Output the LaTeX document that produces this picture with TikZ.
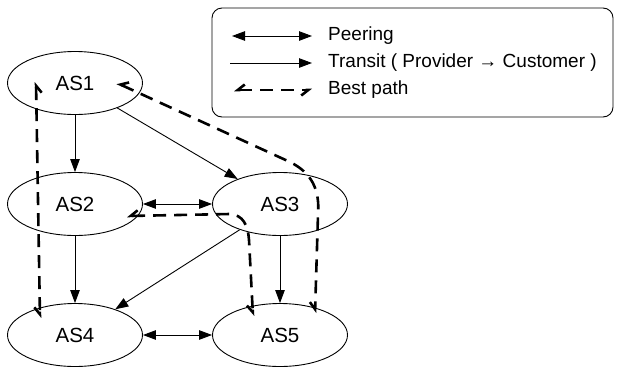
\documentclass[tikz,border=0pt]{standalone}
\usepackage{fontspec}
\setmainfont{Liberation Sans}
\usetikzlibrary{arrows.meta,shapes.geometric}

\tikzset{
  asnode/.style={draw, ellipse, line width=0.9pt, minimum width=135pt, minimum height=63pt,
    inner sep=0pt, font=\fontsize{20.5}{24}\selectfont},
  transit/.style={line width=0.9pt, -{Triangle[length=13pt,width=9.5pt]}},
  peering/.style={line width=0.9pt, {Triangle[length=13pt,width=9.5pt]}-{Triangle[length=13pt,width=9.5pt]}},
  bestpath/.style={line width=2.6pt, dash pattern=on 13pt off 8pt,
    {Straight Barb[harpoon,swap,length=7pt,width=11pt]}-{Straight Barb[harpoon,swap,length=7pt,width=11pt]}},
  legendtext/.style={anchor=west, inner sep=0pt, font=\fontsize{19}{22}\selectfont},
}

\begin{document}
\begin{tikzpicture}[x=1pt,y=-1pt]
  \useasboundingbox (0,0) rectangle (617,370);

  % legend
  \draw[line width=0.9pt, rounded corners=10pt] (212,8) rectangle (613,117);
  \coordinate (p1) at (232,36);  \coordinate (p2) at (312,36);
  \coordinate (t1) at (230,63);  \coordinate (t2) at (312,63);
  \coordinate (b1) at (234,90);  \coordinate (b2) at (312,90);
  \draw[peering] (p1) -- (p2);
  \draw[transit] (t1) -- (t2);
  \draw[bestpath] (b1) -- (b2);
  \node[legendtext] (lp) at (328,36) {Peering};
  \node[legendtext] (lt) at (328,63) {Transit ( Provider → Customer )};
  \node[legendtext] (lb) at (328,90) {Best path};

  % autonomous systems
  \node[asnode] (AS1) at (75,83)  {AS1};
  \node[asnode] (AS2) at (75,204) {AS2};
  \node[asnode] (AS3) at (280,204) {AS3};
  \node[asnode] (AS4) at (75,335) {AS4};
  \node[asnode] (AS5) at (280,335) {AS5};

  % transit and peering links
  \draw[transit] (AS1) -- (AS2);
  \draw[transit] (AS1) -- (AS3);
  \draw[transit] (AS2) -- (AS4);
  \draw[transit] (AS3) -- (AS4);
  \draw[transit] (AS3) -- (AS5);
  \draw[peering] (AS2) -- (AS3);
  \draw[peering] (AS4) -- (AS5);

  % best paths
  \coordinate (a1) at (36,82);   \coordinate (a4) at (40,318);
  \draw[bestpath] (a1) -- (a4);

  \coordinate (c1) at (117,83);  \coordinate (c5) at (315,313);
  \draw[bestpath] (c1) -- (290,162) .. controls (312,173) and (320,190) .. (318,215) -- (c5);

  \coordinate (d2) at (127,216); \coordinate (d5) at (253,316);
  \draw[bestpath] (d2) -- (230,214) .. controls (243,215) and (248,225) .. (249,240) -- (d5);
\end{tikzpicture}
\end{document}
